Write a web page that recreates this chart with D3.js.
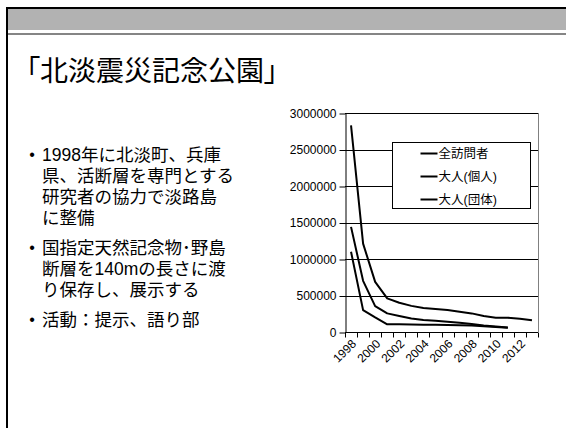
<!DOCTYPE html>
<html>
<head>
<meta charset="utf-8">
<script src="https://cdn.jsdelivr.net/npm/d3@7"></script>
<style>
  body { margin: 0; background: #fff; }
  svg { display: block; font-family: "Liberation Sans", Arial, "Noto Sans CJK JP", sans-serif; }
</style>
</head>
<body>
<div id="slide"></div>
<script>
// --- Data ---
const years = d3.range(1998, 2014).map(String);
const yTicks = [0, 500000, 1000000, 1500000, 2000000, 2500000, 3000000];
const xLabels = ["1998", "2000", "2002", "2004", "2006", "2008", "2010", "2012"];

const allVisitors = [2830000, 1210000, 687000, 460000, 400000, 358000, 330000, 316000,
                     300000, 278000, 255000, 219000, 196000, 196000, 182000, 160000];
const adultIndividual = [1440000, 701000, 355000, 255000, 219000, 185000, 164000, 155000,
                         141000, 128000, 110000, 90000, 75000, 62000];
const adultGroup = [1100000, 300000, 200000, 105000, 105000, 102000, 100000, 98000,
                    96000, 93000, 88000, 80000, 68000, 58000];

const seriesNames = ["全訪問者", "大人(個人)", "大人(団体)"];
const series = [allVisitors, adultIndividual, adultGroup];

const title = "「北淡震災記念公園」";
const bullets = [
  ["1998年に北淡町、兵庫", "県、活断層を専門とする", "研究者の協力で淡路島", "に整備"],
  ["国指定天然記念物･野島", "断層を140mの長さに渡", "り保存し、展示する"],
  ["活動：提示、語り部"]
];

const width = 566, height = 428;

const svg = d3.select("#slide").append("svg")
  .attr("width", width)
  .attr("height", height);

// --------------------------
// SLIDE FRAME
// --------------------------
svg.append("rect").attr("x", 8).attr("y", 9).attr("width", width - 8).attr("height", 21)
  .attr("fill", "#b2b2b2");
svg.append("rect").attr("x", 8).attr("y", 33).attr("width", width - 8).attr("height", 2)
  .attr("fill", "#858585");
svg.append("rect").attr("x", 6).attr("y", 7).attr("width", width - 6).attr("height", 2)
  .attr("fill", "#000");
svg.append("rect").attr("x", 6).attr("y", 7).attr("width", 2).attr("height", height - 7)
  .attr("fill", "#000");

svg.append("text")
  .attr("x", 26).attr("y", 81)
  .attr("font-size", 28)
  .style("font-feature-settings", "'palt'")
  .text(title);

// Bullets
let lineY = 161;
bullets.forEach(lines => {
  svg.append("text").attr("x", 32).attr("y", lineY - 1)
    .attr("text-anchor", "middle").attr("font-size", 16).text("•");
  lines.forEach(l => {
    svg.append("text")
      .attr("x", 42).attr("y", lineY)
      .attr("font-size", 17.5)
      .text(l);
    lineY += 21;
  });
  lineY += 9;
});

// --------------------------
// CHART
// --------------------------
const margin = { top: 113, right: 28, bottom: 96, left: 345 };

const x = d3.scaleBand()
  .domain(years)
  .range([margin.left, width - margin.right]);

const y = d3.scaleLinear()
  .domain([0, 3000000])
  .range([height - margin.bottom, margin.top]);

const chart = svg.append("g").attr("class", "chart");

// gridlines
chart.append("g")
  .selectAll("line")
  .data(yTicks.slice(1))
  .join("line")
    .attr("x1", margin.left).attr("x2", width - margin.right)
    .attr("y1", d => Math.round(y(d)) + 0.5).attr("y2", d => Math.round(y(d)) + 0.5)
    .attr("stroke", "#000");

// plot right border
chart.append("line")
  .attr("x1", width - margin.right + 0.5).attr("x2", width - margin.right + 0.5)
  .attr("y1", y(3000000)).attr("y2", y(0))
  .attr("stroke", "#808080");

// y axis
const yAxis = chart.append("g")
  .attr("transform", `translate(${margin.left + 0.5},0.5)`)
  .call(d3.axisLeft(y).tickValues(yTicks).tickFormat(d3.format("d")).tickSize(6).tickSizeOuter(0));
yAxis.select(".domain").attr("stroke", "#000");
yAxis.selectAll("text").attr("font-size", 12).attr("font-family", "Liberation Sans, Arial").attr("fill", "#000");

// x axis (ticks on band boundaries)
const xAxisG = chart.append("g")
  .attr("transform", `translate(0,${Math.round(y(0)) + 0.5})`);
xAxisG.append("line")
  .attr("x1", margin.left).attr("x2", width - margin.right)
  .attr("stroke", "#000");
xAxisG.selectAll("line.tick")
  .data(years.concat(["end"]))
  .join("line")
    .attr("class", "tick")
    .attr("x1", (d, i) => Math.round(margin.left + i * x.bandwidth()) + 0.5)
    .attr("x2", (d, i) => Math.round(margin.left + i * x.bandwidth()) + 0.5)
    .attr("y1", 0).attr("y2", 5)
    .attr("stroke", "#000");
xAxisG.selectAll("text")
  .data(xLabels)
  .join("text")
    .attr("transform", d => `translate(${x(d) + x.bandwidth() / 2 + 3},${9}) rotate(-45)`)
    .attr("text-anchor", "end")
    .attr("dy", "0.35em")
    .attr("font-size", 12)
    .text(d => d);

// lines
const line = d3.line()
  .x((d, i) => x(years[i]) + x.bandwidth() / 2)
  .y(d => y(d));

chart.append("g")
  .selectAll("path")
  .data(series)
  .join("path")
    .attr("d", d => line(d))
    .attr("fill", "none")
    .attr("stroke", "#000")
    .attr("stroke-width", 2)
    .attr("stroke-linejoin", "round");

// legend
const legend = chart.append("g").attr("transform", "translate(392.5,142.5)");
legend.append("rect")
  .attr("width", 138).attr("height", 66)
  .attr("fill", "#fff").attr("stroke", "#000");
seriesNames.forEach((name, i) => {
  const ly = 11 + i * 23;
  legend.append("line")
    .attr("x1", 28).attr("x2", 45)
    .attr("y1", ly).attr("y2", ly)
    .attr("stroke", "#000").attr("stroke-width", 2);
  legend.append("text")
    .attr("x", 46).attr("y", ly)
    .attr("dy", "0.36em")
    .attr("font-size", 12.5)
    .text(name);
});
</script>
</body>
</html>
